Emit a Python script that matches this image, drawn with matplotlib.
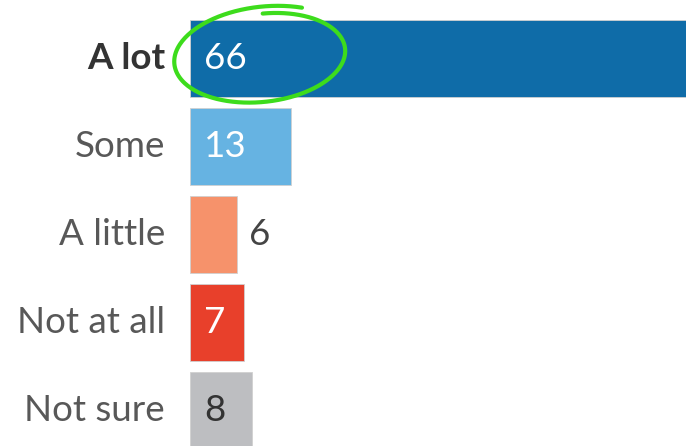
import numpy as np
from matplotlib import pyplot as plt

categories = ['A lot', 'Some', 'A little', 'Not at all', 'Not sure']
values = [66, 13, 6, 7, 8]

bar_colors = ['#0f6ca8', '#66b3e2', '#f6926b', '#e8402b', '#bdbec1']
value_colors = ['white', 'white', '#444444', 'white', '#333333']

plt.rcParams['font.family'] = ['Lato', 'DejaVu Sans']

fig = plt.figure(figsize=(6.86, 4.46), dpi=100)
ax = fig.add_axes([190 / 686, 0, 496 / 686, 1])

y = np.arange(len(categories))
ax.barh(y, values, height=0.875, color=bar_colors, edgecolor='#d0d0d0', linewidth=0.6)

ax.set_xlim(0, 63.8)
ax.set_ylim(4.403, -0.665)
ax.axis('off')

for i, (cat, val) in enumerate(zip(categories, values)):
    bold = (i == 0)
    ax.text(-3.2, i, cat, ha='right', va='center', fontsize=26.5,
            color='#333333' if bold else '#585858',
            fontweight='bold' if bold else 'normal', clip_on=False)
    if val <= 6:
        ax.text(val + 1.6, i, str(val), ha='left', va='center', fontsize=26.5, color=value_colors[i])
    else:
        ax.text(1.8, i, str(val), ha='left', va='center', fontsize=26.5, color=value_colors[i])

# hand drawn green loop around the top value
t = np.linspace(np.radians(-62), np.radians(-62 - 385), 300)
s = np.linspace(1.06, 0.9, len(t))
phi = np.radians(-6)
cx, cy, a, b = 263, 56, 88, 47
px = cx + s * (a * np.cos(t) * np.cos(phi) - b * np.sin(t) * np.sin(phi))
py = cy + s * (a * np.cos(t) * np.sin(phi) + b * np.sin(t) * np.cos(phi))
fig.add_artist(plt.Line2D(px / 686, 1 - py / 446, color='#3ddc1c', lw=3.0,
                          solid_capstyle='round', transform=fig.transFigure))

fig.savefig('out.png', dpi=100)
